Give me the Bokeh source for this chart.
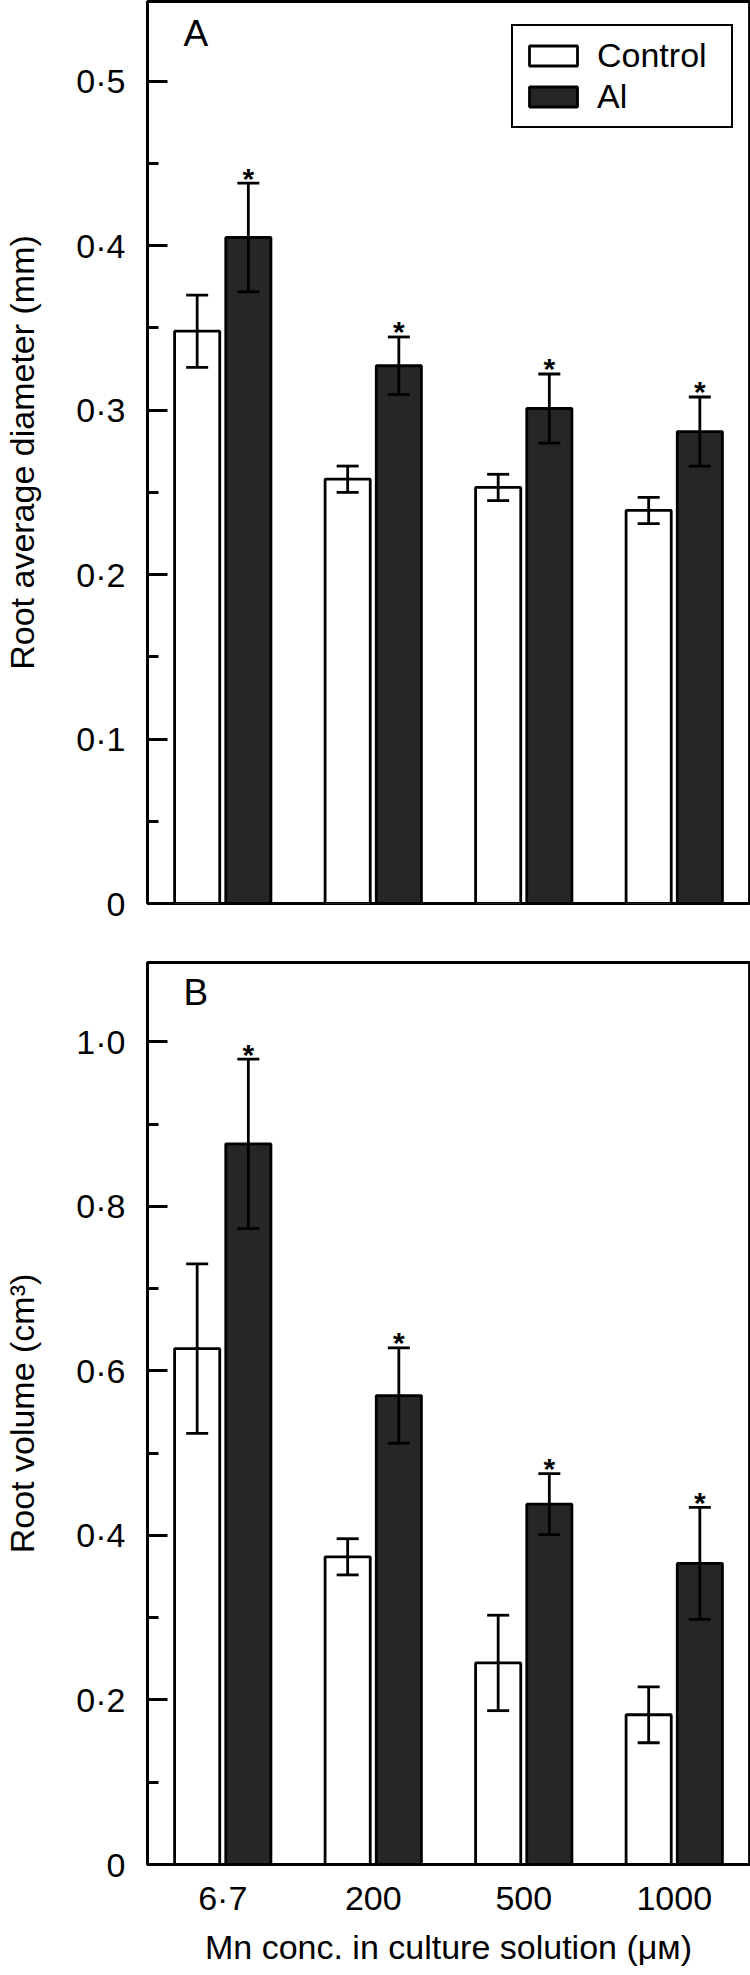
import numpy as np
from bokeh.plotting import figure
from bokeh.models import (ColumnDataSource, Range1d, FixedTicker, Whisker, TeeHead,
                          Legend, LegendItem, Label)
from bokeh.layouts import column
from bokeh.embed import file_html
from bokeh.resources import INLINE
from bokeh.core.properties import value

# ---------------- data ----------------
categories = ["6·7", "200", "500", "1000"]

diam_control = [0.348, 0.258, 0.253, 0.239]
diam_control_err = [0.022, 0.008, 0.008, 0.008]
diam_al = [0.405, 0.327, 0.301, 0.287]
diam_al_err = [0.033, 0.0175, 0.021, 0.021]
diam_sig = ["*", "*", "*", "*"]

vol_control = [0.627, 0.374, 0.245, 0.182]
vol_control_err = [0.103, 0.022, 0.058, 0.034]
vol_al = [0.876, 0.570, 0.438, 0.366]
vol_al_err = [0.103, 0.058, 0.037, 0.068]
vol_sig = ["*", "*", "*", "*"]

diam_ticks = [0, 0.1, 0.2, 0.3, 0.4, 0.5]
diam_tick_labels = ["0", "0·1", "0·2", "0·3", "0·4", "0·5"]
diam_minor = [0.05, 0.15, 0.25, 0.35, 0.45]

vol_ticks = [0, 0.2, 0.4, 0.6, 0.8, 1.0]
vol_tick_labels = ["0", "0·2", "0·4", "0·6", "0·8", "1·0"]
vol_minor = [0.1, 0.3, 0.5, 0.7, 0.9]

series_labels = ["Control", "Al"]
panel_labels = ["A", "B"]
y_titles = ["Root average diameter (mm)", "Root volume (cm³)"]
x_title = "Mn conc. in culture solution (μᴍ)"

# ---------------- style ----------------
FONT = "Liberation Sans"
FS = "34px"
LW = 2.8
DARK = "#262626"
W = 750
DODGE = 0.17
BAR_W = 0.3
xc = np.arange(len(categories)) + 0.5


def base_fig(height, y_top, top_b, bottom_b, with_x):
    p = figure(width=W, height=height, x_range=Range1d(0, len(categories)),
               y_range=Range1d(0, y_top), output_backend="svg", toolbar_location=None,
               min_border_left=146, min_border_right=1, min_border_top=top_b,
               min_border_bottom=bottom_b,
               x_axis_location="below" if with_x else None)
    p.grid.visible = False
    p.outline_line_color = "black"
    p.outline_line_alpha = 1
    p.outline_line_width = LW
    p.background_fill_color = "white"
    p.border_fill_color = "white"
    ya = p.yaxis[0]
    ya.axis_line_width = LW
    ya.major_tick_line_width = LW
    ya.minor_tick_line_width = LW
    ya.major_tick_in = 20
    ya.major_tick_out = 0
    ya.minor_tick_in = 11
    ya.minor_tick_out = 0
    ya.major_label_text_font = FONT
    ya.major_label_text_font_size = FS
    ya.major_label_text_color = "black"
    ya.major_label_standoff = 22
    ya.axis_label_text_font = FONT
    ya.axis_label_text_font_size = FS
    ya.axis_label_text_font_style = "normal"
    ya.axis_label_text_color = "black"
    ya.axis_label_standoff = 32
    return p


def draw(p, ctrl, ctrl_err, al, al_err, sig, px_per_unit):
    src = ColumnDataSource(dict(
        xc=xc - DODGE, xa=xc + DODGE, ctrl=ctrl, al=al,
        c_up=np.array(ctrl) + np.array(ctrl_err), c_lo=np.array(ctrl) - np.array(ctrl_err),
        a_up=np.array(al) + np.array(al_err), a_lo=np.array(al) - np.array(al_err),
        sig=sig,
        sig_y=np.array(al) + np.array(al_err) + 5.0 / px_per_unit,
    ))
    r1 = p.vbar(x="xc", top="ctrl", width=BAR_W, bottom=0, source=src,
                fill_color="white", line_color="black", line_width=LW)
    r2 = p.vbar(x="xa", top="al", width=BAR_W, bottom=0, source=src,
                fill_color=DARK, line_color="black", line_width=LW)
    for b, u, l in (("xc", "c_up", "c_lo"), ("xa", "a_up", "a_lo")):
        w = Whisker(source=src, base=b, upper=u, lower=l, dimension="height",
                    line_width=LW, line_color="black", level="overlay",
                    upper_head=TeeHead(size=22, line_width=LW, line_color="black"),
                    lower_head=TeeHead(size=22, line_width=LW, line_color="black"))
        p.add_layout(w)
    p.text(x="xa", y="sig_y", text="sig", source=src, text_align="center",
           text_baseline="alphabetic", text_font=value(FONT), text_font_size="30px",
           text_font_style="bold", text_color="black")
    return r1, r2


# ---------------- panel A ----------------
A_FRAME = 902
A_TOP = 0.5485
A_PX = A_FRAME / A_TOP
pA = base_fig(height=1 + A_FRAME + 27, y_top=A_TOP, top_b=1, bottom_b=27, with_x=False)
pA.yaxis[0].ticker = FixedTicker(ticks=diam_ticks, minor_ticks=diam_minor)
pA.yaxis[0].major_label_overrides = dict(zip(diam_ticks, diam_tick_labels))
pA.yaxis[0].axis_label = y_titles[0]
rA1, rA2 = draw(pA, diam_control, diam_control_err, diam_al, diam_al_err, diam_sig, A_PX)
pA.add_layout(Label(x=0.24, y=A_TOP - 11.0 / A_PX, text=panel_labels[0],
                    text_baseline="top", text_font=FONT, text_font_size="37px",
                    text_color="black"))
legend = Legend(items=[LegendItem(label=series_labels[0], renderers=[rA1]),
                       LegendItem(label=series_labels[1], renderers=[rA2])],
                location=(364, 775), orientation="vertical",
                border_line_color="black", border_line_width=LW, border_line_alpha=1,
                background_fill_color="white", background_fill_alpha=1,
                glyph_width=60, glyph_height=25, label_standoff=14,
                label_text_font=FONT, label_text_font_size=FS, label_text_color="black",
                label_height=25, label_width=124, padding=10, spacing=2, margin=0)
pA.add_layout(legend)

# ---------------- panel B ----------------
B_FRAME = 902
B_TOP = 1.0964
B_PX = B_FRAME / B_TOP
pB = base_fig(height=32 + B_FRAME + 111, y_top=B_TOP, top_b=32, bottom_b=111, with_x=True)
pB.yaxis[0].ticker = FixedTicker(ticks=vol_ticks, minor_ticks=vol_minor)
pB.yaxis[0].major_label_overrides = dict(zip(vol_ticks, vol_tick_labels))
pB.yaxis[0].axis_label = y_titles[1]
xa = pB.xaxis[0]
xa.ticker = FixedTicker(ticks=list(xc), minor_ticks=[])
xa.major_label_overrides = dict(zip(list(xc), categories))
xa.axis_line_width = LW
xa.major_tick_in = 0
xa.major_tick_out = 0
xa.minor_tick_in = 0
xa.minor_tick_out = 0
xa.major_label_text_font = FONT
xa.major_label_text_font_size = FS
xa.major_label_text_color = "black"
xa.major_label_standoff = 14
xa.axis_label = x_title
xa.axis_label_text_font = FONT
xa.axis_label_text_font_size = FS
xa.axis_label_text_font_style = "normal"
xa.axis_label_text_color = "black"
xa.axis_label_standoff = 8
draw(pB, vol_control, vol_control_err, vol_al, vol_al_err, vol_sig, B_PX)
pB.add_layout(Label(x=0.24, y=B_TOP - 9.0 / B_PX, text=panel_labels[1],
                    text_baseline="top", text_font=FONT, text_font_size="37px",
                    text_color="black"))

layout = column(pA, pB, spacing=0)
open("out.html", "w").write(file_html(layout, INLINE))
